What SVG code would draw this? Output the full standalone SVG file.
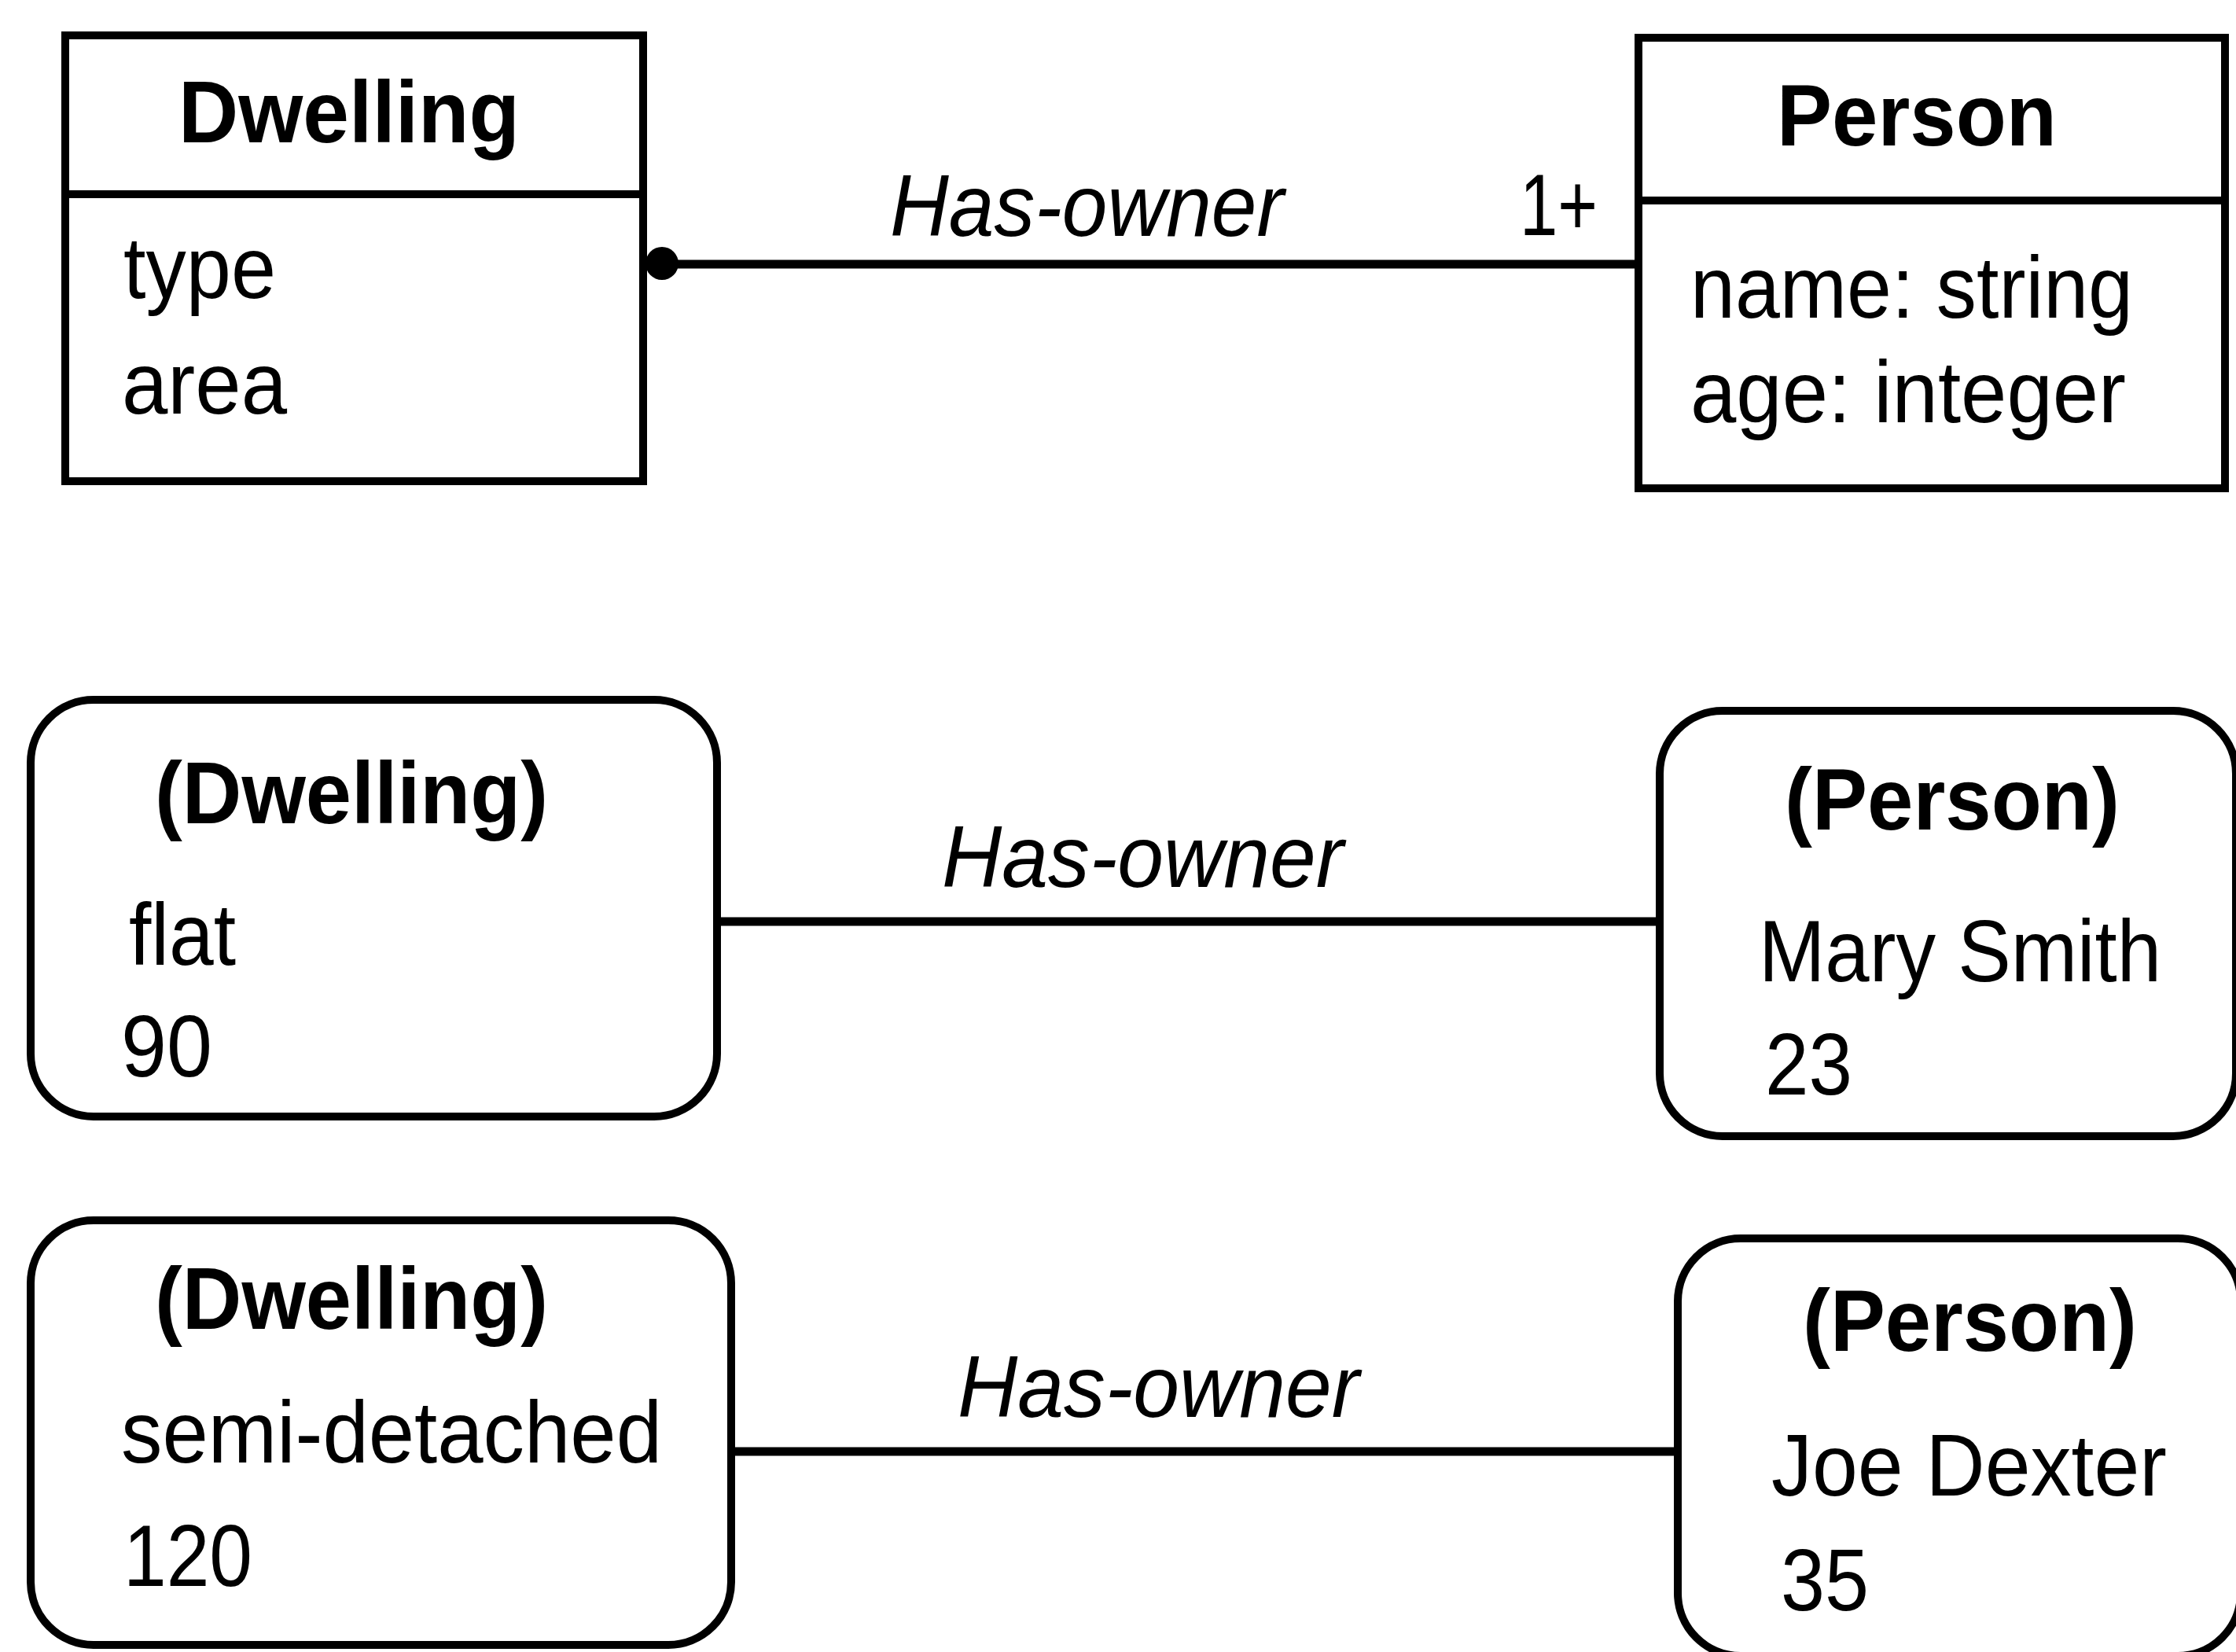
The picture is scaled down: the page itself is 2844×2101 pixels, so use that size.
<svg xmlns="http://www.w3.org/2000/svg" width="2844" height="2101" viewBox="0 0 2844 2101">
  <style>
    .box { fill: none; stroke: #000; stroke-width: 10; }
    .link { fill: none; stroke: #000; stroke-width: 11; }
    text { font-family: "Liberation Sans", Arial, sans-serif; font-size: 112px; fill: #000; }
    .title { font-weight: bold; }
    .assoc { font-style: italic; }
  </style>
  <rect x="0" y="0" width="2844" height="2101" fill="#fff"/>

  <!-- class: Dwelling -->
  <g id="class-dwelling">
    <rect class="box" x="83" y="45" width="735" height="567"/>
    <line class="box" x1="83" y1="247" x2="818" y2="247"/>
    <text class="title" x="227" y="181" textLength="434" lengthAdjust="spacingAndGlyphs">Dwelling</text>
    <text x="157" y="379" textLength="194" lengthAdjust="spacingAndGlyphs">type</text>
    <text x="155" y="526" textLength="210" lengthAdjust="spacingAndGlyphs">area</text>
  </g>

  <!-- class: Person -->
  <g id="class-person">
    <rect class="box" x="2084" y="48" width="746" height="573"/>
    <line class="box" x1="2084" y1="255" x2="2830" y2="255"/>
    <text class="title" x="2260" y="185" textLength="356" lengthAdjust="spacingAndGlyphs">Person</text>
    <text x="2150" y="404" textLength="563" lengthAdjust="spacingAndGlyphs">name: string</text>
    <text x="2150" y="537" textLength="554" lengthAdjust="spacingAndGlyphs">age: integer</text>
  </g>

  <!-- instance: flat -->
  <g id="obj-dwelling-1">
    <rect class="box" x="39" y="890" width="873" height="530" rx="80" ry="80"/>
    <text class="title" x="197" y="1047" textLength="500" lengthAdjust="spacingAndGlyphs">(Dwelling)</text>
    <text x="164" y="1227" textLength="136" lengthAdjust="spacingAndGlyphs">flat</text>
    <text x="154" y="1369" textLength="116" lengthAdjust="spacingAndGlyphs">90</text>
  </g>

  <!-- instance: Mary Smith -->
  <g id="obj-person-1">
    <rect class="box" x="2111" y="904" width="733" height="541" rx="80" ry="80"/>
    <text class="title" x="2270" y="1055" textLength="426" lengthAdjust="spacingAndGlyphs">(Person)</text>
    <text x="2237" y="1248" textLength="512" lengthAdjust="spacingAndGlyphs">Mary Smith</text>
    <text x="2245" y="1392" textLength="111" lengthAdjust="spacingAndGlyphs">23</text>
  </g>

  <!-- instance: semi-detached -->
  <g id="obj-dwelling-2">
    <rect class="box" x="39" y="1552" width="891" height="540" rx="80" ry="80"/>
    <text class="title" x="197" y="1690" textLength="500" lengthAdjust="spacingAndGlyphs">(Dwelling)</text>
    <text x="154" y="1860" textLength="688" lengthAdjust="spacingAndGlyphs">semi-detached</text>
    <text x="157" y="2017" textLength="164" lengthAdjust="spacingAndGlyphs">120</text>
  </g>

  <!-- instance: Joe Dexter -->
  <g id="obj-person-2">
    <rect class="box" x="2134" y="1575" width="716" height="531" rx="80" ry="80"/>
    <text class="title" x="2293" y="1718" textLength="425" lengthAdjust="spacingAndGlyphs">(Person)</text>
    <text x="2253" y="1902" textLength="503" lengthAdjust="spacingAndGlyphs">Joe Dexter</text>
    <text x="2265" y="2048" textLength="112" lengthAdjust="spacingAndGlyphs">35</text>
  </g>

  <!-- associations -->
  <g id="connectors">
    <line class="link" x1="822" y1="336" x2="2084" y2="336"/>
    <circle cx="842" cy="335" r="21" fill="#000"/>
    <text class="assoc" x="1132" y="300" textLength="501" lengthAdjust="spacingAndGlyphs">Has-owner</text>
    <text x="1933" y="299" textLength="99" lengthAdjust="spacingAndGlyphs">1+</text>

    <line class="link" x1="912" y1="1172" x2="2111" y2="1172"/>
    <text class="assoc" x="1198" y="1128" textLength="511" lengthAdjust="spacingAndGlyphs">Has-owner</text>

    <line class="link" x1="930" y1="1846" x2="2134" y2="1846"/>
    <text class="assoc" x="1218" y="1802" textLength="511" lengthAdjust="spacingAndGlyphs">Has-owner</text>
  </g>
</svg>
